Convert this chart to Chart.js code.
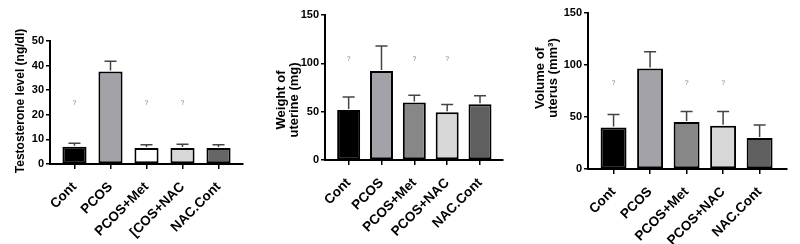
<!DOCTYPE html>
<html>
<head>
<meta charset="utf-8">
<script src="https://cdn.jsdelivr.net/npm/chart.js@4.4.1/dist/chart.umd.min.js"></script>
<style>
  body { margin: 0; background: #fff; width: 800px; height: 244px; position: relative; overflow: hidden; }
  canvas { position: absolute; top: 0; }
</style>
</head>
<body>
<canvas id="testosteroneChart" width="265" height="244" style="left:0px"></canvas>
<canvas id="weightChart" width="266" height="244" style="left:262px"></canvas>
<canvas id="volumeChart" width="270" height="244" style="left:530px"></canvas>
<script>
// group names (first panel has the typo from the figure)
const testosteroneGroups = ['Cont', 'PCOS', 'PCOS+Met', '[COS+NAC', 'NAC.Cont'];
const uterusGroups = ['Cont', 'PCOS', 'PCOS+Met', 'PCOS+NAC', 'NAC.Cont'];

// testosterone level (ng/dl)
const testosteroneMeans = [7.0, 37.6, 6.5, 6.5, 6.5];
const testosteroneErrors = [1.4, 4.2, 1.3, 1.5, 1.3];
const testosteroneMarks = [24.6, null, 24.6, 24.6, null];
const testosteroneTicks = [0, 10, 20, 30, 40, 50];

// weight of uterine (mg)
const weightMeans = [51.7, 92.0, 59.5, 49.4, 57.7];
const weightErrors = [13.6, 26.0, 7.5, 8.0, 8.7];
const weightMarks = [104, null, 104, 104, null];
const weightTicks = [0, 50, 100, 150];

// volume of uterus (mm3)
const volumeMeans = [39.9, 96.7, 45.3, 41.5, 29.7];
const volumeErrors = [12.4, 16.0, 9.9, 13.7, 12.7];
const volumeMarks = [83, null, 83, 83, null];
const volumeTicks = [0, 50, 100, 150];

const FONT = '"Liberation Sans", Arial, sans-serif';

const errorBarPlugin = {
    id: 'errorBars',
    afterDatasetsDraw(chart, args, opts) {
        const { ctx, scales: { x, y } } = chart;
        ctx.save();
        ctx.strokeStyle = '#444';
        ctx.lineWidth = 1.5;
        opts.means.forEach((m, i) => {
            const px = x.getPixelForValue(i);
            const base = y.getPixelForValue(m);
            const top = y.getPixelForValue(m + opts.errors[i]);
            ctx.beginPath();
            ctx.moveTo(px, base - 1);
            ctx.lineTo(px, top);
            ctx.moveTo(px - 6, top);
            ctx.lineTo(px + 6, top);
            ctx.stroke();
        });
        ctx.fillStyle = '#808080';
        ctx.font = '7px ' + FONT;
        ctx.textAlign = 'center';
        ctx.textBaseline = 'middle';
        opts.marks.forEach((v, i) => {
            if (v == null) return;
            ctx.fillText('?', x.getPixelForValue(i), y.getPixelForValue(v));
        });
        ctx.restore();
    },
    afterDraw(chart, args, opts) {
        const { ctx } = chart;
        ctx.save();
        ctx.fillStyle = '#000';
        ctx.font = 'bold ' + opts.titleSize + 'px ' + FONT;
        ctx.textAlign = 'center';
        ctx.textBaseline = 'middle';
        opts.title.forEach((line, k) => {
            ctx.save();
            ctx.translate(opts.titleX[k], opts.titleY);
            ctx.rotate(-Math.PI / 2);
            ctx.fillText(line, 0, 0);
            ctx.restore();
        });
        ctx.restore();
    }
};

function renderPanel(id, p) {
    const ctx = document.getElementById(id).getContext('2d');
    new Chart(ctx, {
        type: 'bar',
        data: {
            datasets: [{
                data: p.means.map((v, i) => ({ x: i, y: v })),
                backgroundColor: p.colors,
                borderColor: '#000',
                borderWidth: 2,
                borderSkipped: false,
                categoryPercentage: 1,
                barPercentage: p.barPct
            }]
        },
        options: {
            responsive: false,
            animation: false,
            devicePixelRatio: 1,
            layout: { padding: { left: 0, top: p.top, right: p.right, bottom: 0 } },
            plugins: {
                legend: { display: false },
                tooltip: { enabled: false },
                errorBars: {
                    means: p.means, errors: p.errors, marks: p.marks,
                    title: p.title, titleX: p.titleX, titleY: p.titleY, titleSize: p.titleSize
                }
            },
            scales: {
                x: {
                    type: 'linear',
                    offset: false,
                    min: p.xMin,
                    max: p.xMax,
                    afterBuildTicks: s => { s.ticks = p.groups.map((g, i) => ({ value: i })); },
                    afterFit: s => { s.height = 244 - p.bottom; },
                    grid: { offset: false, drawOnChartArea: false, tickLength: 5, color: '#000', lineWidth: 1.5 },
                    border: { color: '#000', width: 2 },
                    ticks: {
                        autoSkip: false,
                        minRotation: 45,
                        maxRotation: 45,
                        padding: 10,
                        color: '#000',
                        font: { family: FONT, size: 13.5, weight: 'bold' },
                        callback: v => p.groups[v]
                    }
                },
                y: {
                    min: 0,
                    max: p.ticks[p.ticks.length - 1],
                    afterBuildTicks: s => { s.ticks = p.ticks.map(v => ({ value: v })); },
                    afterFit: s => { s.width = p.left; },
                    grid: { drawOnChartArea: false, tickLength: 4, color: '#000', lineWidth: 1.5 },
                    border: { color: '#000', width: 2 },
                    ticks: {
                        padding: 2,
                        color: '#000',
                        font: { family: FONT, size: 11, weight: 'bold' }
                    }
                }
            }
        },
        plugins: [errorBarPlugin]
    });
}

renderPanel('testosteroneChart', {
    groups: testosteroneGroups, means: testosteroneMeans, errors: testosteroneErrors,
    marks: testosteroneMarks, ticks: testosteroneTicks,
    colors: ['#000000', '#a2a2a8', '#ffffff', '#d8d8d8', '#666666'],
    left: 50, right: 22, top: 41, bottom: 164, xMin: -0.68, xMax: 4.68, barPct: 0.67,
    title: ['Testosterone level (ng/dl)'], titleX: [21], titleY: 101, titleSize: 12
});

renderPanel('weightChart', {
    groups: uterusGroups, means: weightMeans, errors: weightErrors,
    marks: weightMarks, ticks: weightTicks,
    colors: ['#000000', '#a2a2a8', '#878787', '#d8d8d8', '#5f5f5f'],
    left: 63, right: 25, top: 15, bottom: 160, xMin: -0.72, xMax: 4.7, barPct: 0.7,
    title: ['Weight of', 'uterine (mg)'], titleX: [19, 32], titleY: 100, titleSize: 13
});

renderPanel('volumeChart', {
    groups: uterusGroups, means: volumeMeans, errors: volumeErrors,
    marks: volumeMarks, ticks: volumeTicks,
    colors: ['#000000', '#a2a2a8', '#878787', '#d8d8d8', '#5f5f5f'],
    left: 58, right: 13, top: 13, bottom: 169, xMin: -0.7, xMax: 4.75, barPct: 0.71,
    title: ['Volume of', 'uterus (mm\u00b3)'], titleX: [10, 23], titleY: 78, titleSize: 13
});
</script>
</body>
</html>
